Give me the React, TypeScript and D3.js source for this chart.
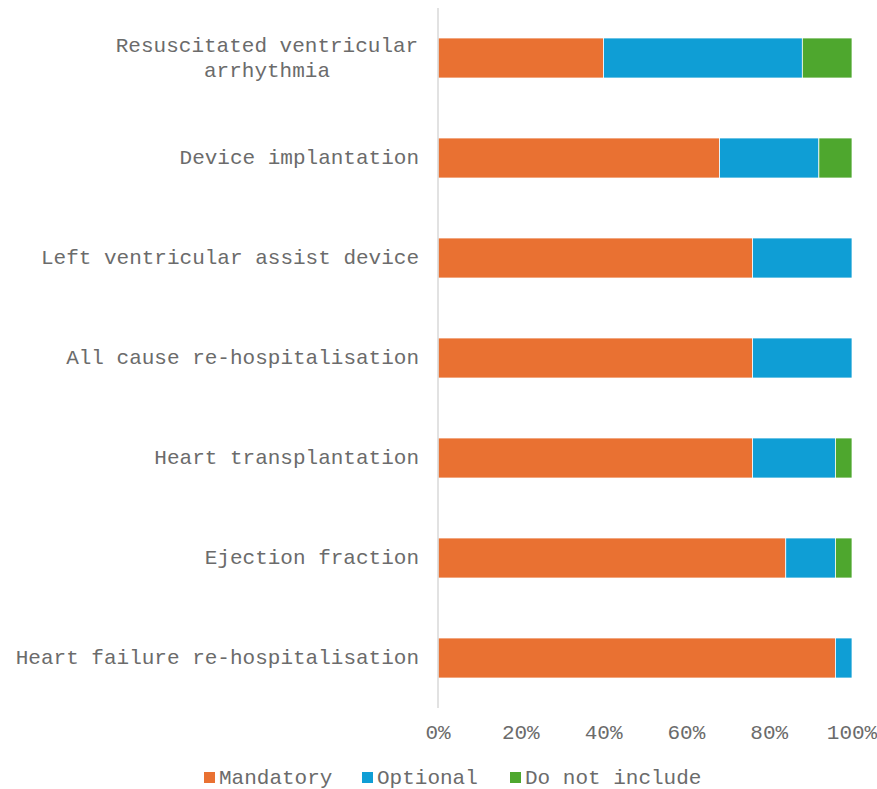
import React, { useEffect, useRef } from 'react'
import * as d3 from 'd3'

const categories = [
  'Resuscitated ventricular arrhythmia',
  'Device implantation',
  'Left ventricular assist device',
  'All cause re-hospitalisation',
  'Heart transplantation',
  'Ejection fraction',
  'Heart failure re-hospitalisation',
]
const mandatory = [40, 68, 76, 76, 76, 84, 96]
const optional = [48, 24, 24, 24, 20, 12, 4]
const doNotInclude = [12, 8, 0, 0, 4, 4, 0]
const seriesNames = ['Mandatory', 'Optional', 'Do not include']
const colors = ['#E97132', '#0F9ED5', '#4EA72E']
const ticks = [0, 0.2, 0.4, 0.6, 0.8, 1]

const W = 877
const H = 789
const FONT = '"Courier New", "Nimbus Mono PS", "Nimbus Mono L", FreeMono, Courier, "Liberation Mono", monospace'
const TEXT = '#6b6b6b'

export default function App() {
  const ref = useRef<SVGSVGElement>(null)

  useEffect(() => {
    const svg = d3.select(ref.current)
    svg.selectAll('*').remove()

    const x = d3.scaleLinear().domain([0, 1]).range([438, 852])
    const y = d3.scaleBand().domain(categories).range([8, 708]).paddingInner(0.6).paddingOuter(0.3)

    const rows = categories.map((c, i) => {
      const tot = mandatory[i] + optional[i] + doNotInclude[i]
      return { cat: c, Mandatory: mandatory[i] / tot, Optional: optional[i] / tot, 'Do not include': doNotInclude[i] / tot }
    })
    const stack = d3.stack<any>().keys(seriesNames)(rows)

    stack.forEach((s, k) => {
      svg.append('g').selectAll('rect')
        .data(s)
        .enter().append('rect')
        .attr('x', d => x(d[0]))
        .attr('y', d => y(d.data.cat)!)
        .attr('width', d => Math.max(0, x(d[1]) - x(d[0])))
        .attr('height', y.bandwidth())
        .attr('fill', colors[k])
        .attr('stroke', d => (d[1] - d[0] > 0 ? '#fff' : 'none'))
        .attr('stroke-width', 0.75)
    })

    svg.append('line')
      .attr('x1', 438).attr('x2', 438)
      .attr('y1', 8).attr('y2', 708)
      .attr('stroke', '#d9d9d9').attr('stroke-width', 1.5)

    // category labels
    const labels = svg.append('g')
      .attr('font-family', FONT).attr('font-size', 21).attr('fill', TEXT)
      .attr('text-anchor', 'end')
    categories.forEach(c => {
      const cy = y(c)! + y.bandwidth() / 2
      if (c === 'Resuscitated ventricular arrhythmia') {
        const t = labels.append('text').attr('text-anchor', 'middle')
        t.append('tspan').attr('x', 267).attr('y', cy - 6).text('Resuscitated ventricular')
        t.append('tspan').attr('x', 267).attr('y', cy + 19).text('arrhythmia')
      } else {
        labels.append('text').attr('x', 419).attr('y', cy + 6).text(c)
      }
    })

    // x ticks
    svg.append('g')
      .attr('font-family', FONT).attr('font-size', 21).attr('fill', TEXT)
      .attr('text-anchor', 'middle')
      .selectAll('text')
      .data(ticks)
      .enter().append('text')
      .attr('x', d => x(d))
      .attr('y', 739)
      .text(d => d3.format('.0%')(d))

    // legend
    const legendX = [204, 362, 510]
    const lg = svg.append('g').attr('font-family', FONT).attr('font-size', 21).attr('fill', TEXT)
    seriesNames.forEach((n, i) => {
      lg.append('rect').attr('x', legendX[i]).attr('y', 772).attr('width', 11).attr('height', 11).attr('fill', colors[i])
      lg.append('text').attr('x', legendX[i] + 15).attr('y', 784).text(n)
    })
  }, [])

  return (
    <svg ref={ref} width={W} height={H} style={{ position: 'absolute', left: 0, top: 0, background: '#fff' }} />
  )
}
